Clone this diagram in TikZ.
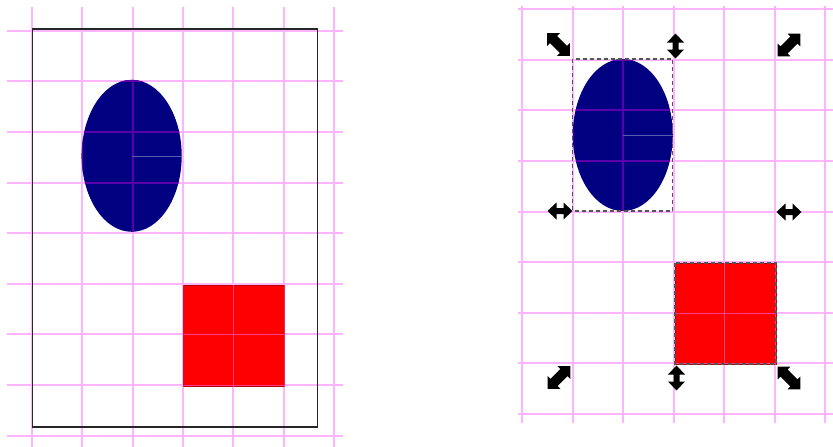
\documentclass[tikz,border=0pt]{standalone}
\usetikzlibrary{shapes.geometric}
\definecolor{gridpink}{HTML}{FFB4FF}
\definecolor{gridonblue}{HTML}{5A00AA}
\definecolor{gridonred}{HTML}{FF3C8C}
\definecolor{shapenavy}{HTML}{000080}
\definecolor{shapered}{HTML}{FF0000}
\definecolor{dashgrey}{HTML}{555555}
\definecolor{seamblue}{HTML}{5A5AB0}

% grids of the two panels, drawn in the style given
\newcommand{\pagegrid}[1]{%
    \foreach \gx in {32,82,133,183,233,284,334} {
        \draw[#1] (\gx,7) -- (\gx,447);
    }
    \foreach \gy in {31,81,132,183,233,284,334,385,436} {
        \draw[#1] (7,\gy) -- (343,\gy);
    }%
}
\newcommand{\selgrid}[1]{%
    \foreach \gx in {522,573,623,674,724,775,825} {
        \draw[#1] (\gx,6) -- (\gx,423);
    }
    \foreach \gy in {9,60,110,161,212,262,313,363,414} {
        \draw[#1] (518,\gy) -- (833,\gy);
    }%
}

\begin{document}
\begin{tikzpicture}[
    x=1pt, y=-1pt,
    every node/.style={inner sep=0pt, outer sep=0pt},
    gridline/.style={gridpink, line width=2pt},
    gridblue/.style={gridonblue, line width=2pt},
    gridred/.style={gridonred, line width=1pt},
    blob/.style={ellipse, fill=shapenavy, minimum width=100pt, minimum height=152pt},
    block/.style={rectangle, fill=shapered, draw=shapered!70!black, line width=0.6pt,
                  minimum width=101pt, minimum height=101pt},
    pagebox/.style={draw=black!85, line width=1.5pt},
    selbox/.style={draw=dashgrey, line width=1.1pt, dash pattern=on 4pt off 3pt},
    seam/.style={seamblue, line width=0.6pt},
    pics/sidearrow/.style={code={
        \fill[black] (-12.5,0) -- (-3.5,8.5) -- (-3.5,3) -- (3.5,3) -- (3.5,8.5) -- (12.5,0)
            -- (3.5,-8.5) -- (3.5,-3) -- (-3.5,-3) -- (-3.5,-8.5) -- cycle;
    }},
    pics/cornerarrow/.style={code={
        \fill[black] (-16,0) -- (-7,9) -- (-7,5) -- (7,5) -- (7,9)
            -- (16,0) -- (7,-9) -- (7,-5) -- (-7,-5) -- (-7,-9) -- cycle;
    }},
]
\useasboundingbox (0,0) rectangle (833,447);

% ============ LEFT: page view ============
\pagegrid{gridline}
\node[blob] (ell1) at (131.7,155.8) {};
\node[block] (sq1) at (234.2,335.5) {};

% grid seen through the shapes
\begin{scope}
    \clip (ell1.center) ellipse [x radius=50pt, y radius=76pt];
    \pagegrid{gridblue}
\end{scope}
\begin{scope}
    \clip (sq1.north west) rectangle (sq1.south east);
    \pagegrid{gridred}
\end{scope}
\draw[seam] (ell1.center) -- (ell1.east);

% page border
\draw[pagebox] (32.3,29) rectangle (317.7,427);

% ============ RIGHT: selection view ============
\selgrid{gridline}
\node[blob] (ell2) at (622.8,135) {};
\node[block, fill=shapered] (sq2) at (725.5,313.5) {};

% grid seen through the shapes
\begin{scope}
    \clip (ell2.center) ellipse [x radius=49.5pt, y radius=76pt];
    \selgrid{gridblue}
\end{scope}
\begin{scope}
    \clip (sq2.north west) rectangle (sq2.south east);
    \selgrid{gridred}
\end{scope}
\draw[seam] (ell2.center) -- (ell2.east);

% dashed selection outlines
\draw[selbox] (sq2.north west) rectangle (sq2.south east);
\draw[selbox] (ell2.west |- ell2.north) rectangle (ell2.east |- ell2.south);

% selection handles
\foreach \hx/\hy/\ha in {558.5/44.5/-45, 789/45/45, 559/377.5/45, 789/378/-45} {
    \pic[rotate=\ha] at (\hx,\hy) {cornerarrow};
}
\foreach \hx/\hy/\ha in {675.5/46/90, 676.5/378/90, 560/211/0, 789/212/0} {
    \pic[rotate=\ha] at (\hx,\hy) {sidearrow};
}

\end{tikzpicture}
\end{document}
